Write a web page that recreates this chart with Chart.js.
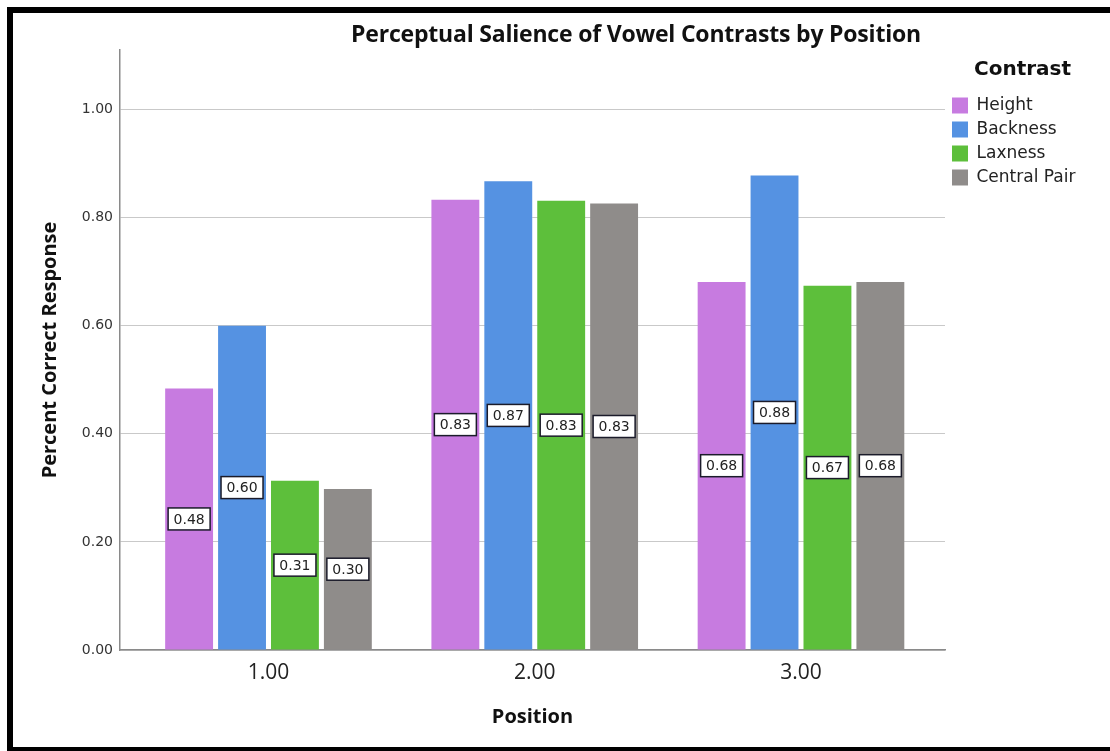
<!DOCTYPE html>
<html>
<head>
<meta charset="utf-8">
<script src="https://cdn.jsdelivr.net/npm/chart.js@4.4.1/dist/chart.umd.min.js"></script>
<style>
  html, body { margin: 0; padding: 0; background: #fff; }
  #wrap { position: relative; width: 1110px; height: 751px; overflow: hidden; background: #fff; }
  #c { position: absolute; left: 0; top: 0; }
  .bar { position: absolute; background: #000; }
  #title { position: absolute; left: 300px; width: 672px; top: 18px; text-align: center;
           font: bold 23px "Open Sans", sans-serif; color: #111; line-height: 30px; letter-spacing: -0.2px; }
</style>
</head>
<body>
<div id="wrap">
  <canvas id="c" width="1110" height="751"></canvas>
  <div id="title">Perceptual Salience of Vowel Contrasts by Position</div>
  <div class="bar" style="left:7px;top:7px;width:1103px;height:6px;"></div>
  <div class="bar" style="left:7px;top:7px;width:6px;height:744px;"></div>
  <div class="bar" style="left:7px;top:747px;width:1103px;height:4px;"></div>
</div>
<script>
// ---- data ----
const categories = ['1.00', '2.00', '3.00'];
const positions = [1, 2, 3];
const seriesNames = ['Height', 'Backness', 'Laxness', 'Central Pair'];
const heightValues = [0.484, 0.833, 0.681];
const backnessValues = [0.600, 0.867, 0.878];
const laxnessValues = [0.313, 0.831, 0.674];
const centralPairValues = [0.298, 0.826, 0.681];
const yTickValues = [0, 0.2, 0.4, 0.6, 0.8, 1.0];
const seriesColors = ['#C77BE0', '#5592E2', '#5DBF3B', '#8F8C8A'];

const allSeries = [heightValues, backnessValues, laxnessValues, centralPairValues];

function toPoints(vals) { return vals.map((v, i) => ({ x: positions[i], y: v })); }

const datasets = allSeries.map((vals, k) => ({
  label: seriesNames[k],
  data: toPoints(vals),
  backgroundColor: seriesColors[k],
  borderWidth: 0,
  categoryPercentage: 0.795,
  barPercentage: 0.905
}));

const valueBoxPlugin = {
  id: 'valueBoxes',
  afterDatasetsDraw(chart) {
    const ctx = chart.ctx;
    ctx.save();
    ctx.font = '14px "DejaVu Sans", sans-serif';
    ctx.textAlign = 'center';
    ctx.textBaseline = 'middle';
    chart.data.datasets.forEach((ds, di) => {
      const meta = chart.getDatasetMeta(di);
      meta.data.forEach((el, i) => {
        const v = ds.data[i].y;
        const txt = v.toFixed(2);
        const cx = el.x;
        const cy = (el.y + el.base) / 2;
        const w = 42, h = 22;
        ctx.fillStyle = '#ffffff';
        ctx.fillRect(cx - w / 2, cy - h / 2, w, h);
        ctx.lineWidth = 1.5;
        ctx.strokeStyle = '#1b1b2a';
        ctx.strokeRect(cx - w / 2, cy - h / 2, w, h);
        ctx.fillStyle = '#222';
        ctx.fillText(txt, cx, cy + 1);
      });
    });
    ctx.restore();
  }
};

const legendWidthPlugin = {
  id: 'legendWidth',
  afterInit(chart) {
    const L = chart.legend;
    if (!L) return;
    const orig = L.fit.bind(L);
    L.fit = function () { orig(); this.width = 155; };
  }
};

const xMin = 0.4423, xMax = 3.5409;

new Chart(document.getElementById('c'), {
  type: 'bar',
  data: { datasets },
  plugins: [valueBoxPlugin, legendWidthPlugin],
  options: {
    responsive: false,
    devicePixelRatio: 1,
    animation: false,
    layout: { padding: { left: 20, right: 10, top: 50, bottom: 22 } },
    plugins: {
      tooltip: { enabled: false },
      title: { display: false },
      legend: {
        position: 'right',
        align: 'start',
        title: {
          display: true,
          text: 'Contrast',
          position: 'center',
          color: '#111',
          font: { family: '"DejaVu Sans", sans-serif', size: 20, weight: 'bold' },
          padding: { top: 10, bottom: 6 }
        },
        labels: {
          boxWidth: 16,
          boxHeight: 16,
          padding: 7,
          color: '#222',
          font: { family: '"DejaVu Sans", sans-serif', size: 17 }
        }
      }
    },
    scales: {
      x: {
        type: 'linear',
        min: xMin,
        max: xMax,
        offset: false,
        grid: { display: false, drawTicks: false },
        border: { display: true, color: '#8a8a8a', width: 1.5 },
        afterBuildTicks(scale) { scale.ticks = positions.map(v => ({ value: v })); },
        afterFit(scale) { scale.height = 79; },
        ticks: {
          padding: 10,
          color: '#222',
          font: { family: '"Open Sans", sans-serif', size: 21 },
          callback: (v) => categories[positions.indexOf(v)]
        },
        title: {
          display: true,
          text: 'Position',
          color: '#111',
          font: { family: '"Open Sans", sans-serif', size: 20, weight: 'bold' },
          padding: { top: 0, bottom: 0 }
        }
      },
      y: {
        min: 0,
        max: 1.11,
        grid: { color: '#c9c9c9', lineWidth: 1, drawTicks: false },
        border: { display: true, color: '#8a8a8a', width: 1.5 },
        afterBuildTicks(scale) { scale.ticks = yTickValues.map(v => ({ value: v })); },
        afterFit(scale) { scale.width = 100; },
        ticks: {
          padding: 7,
          color: '#333',
          font: { family: '"DejaVu Sans", sans-serif', size: 14 },
          callback: (v) => Number(v).toFixed(2)
        },
        title: {
          display: true,
          text: 'Percent Correct Response',
          color: '#111',
          font: { family: '"Open Sans", sans-serif', size: 20, weight: 'bold' },
          padding: { top: 18, bottom: 0 }
        }
      }
    }
  }
});
</script>
</body>
</html>
